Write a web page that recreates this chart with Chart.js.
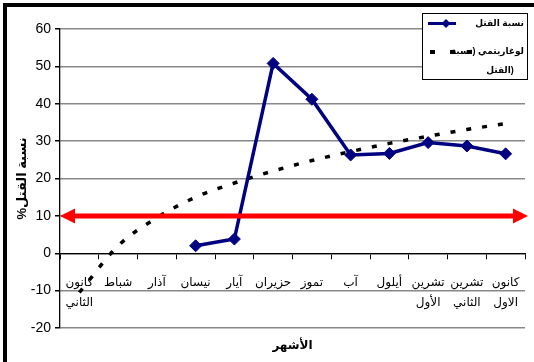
<!DOCTYPE html>
<html>
<head>
<meta charset="utf-8">
<script src="https://cdn.jsdelivr.net/npm/chart.js@4.4.1/dist/chart.umd.min.js"></script>
<style>
  html, body { margin: 0; padding: 0; background: #fff; }
  #wrap { position: relative; width: 534px; height: 362px; overflow: hidden; }
  #frame { position: absolute; left: 3px; top: 3px; width: 560px; height: 400px; border: 4px solid #000; box-sizing: border-box; pointer-events: none; }
  canvas { position: absolute; left: 0; top: 0; }
</style>
</head>
<body>
<div id="wrap">
  <canvas id="c" width="534" height="362"></canvas>
  <div id="frame"></div>
</div>
<script>
// ---- data ----
const months = [
  ["كانون", "الثاني"], "شباط", "آذار", "نيسان", "آيار", "حزيران",
  "تموز", "آب", "أيلول", ["تشرين", "الأول"], ["تشرين", "الثاني"], ["كانون", "الاول"]
];
const killRate = [null, null, null, 2.0, 3.8, 50.8, 41.2, 26.3, 26.7, 29.6, 28.7, 26.6];
const logTrend = [-10.5, 2.0, 9.5, 15.0, 18.8, 22.0, 24.8, 27.2, 29.4, 31.3, 33.1, 34.7];
const referenceLevel = [10];
const yTicks = { min: -20, max: 60, step: 10 };
const seriesName = "نسبة القتل";
const trendNameLines = ["لوغاريتمي (نسبة", "القتل)"];
const yTitle = "%نسبة القتل";
const xTitle = "الأشهر";

const FONT = "'Liberation Sans', Arial, 'DejaVu Sans', sans-serif";

const extras = {
  id: 'extras',
  afterDatasetsDraw(chart) {
    const ctx = chart.ctx;
    const area = chart.chartArea;
    const y = chart.scales.y.getPixelForValue(referenceLevel[0]);
    const L = area.left, R = area.right + 3;
    const hl = 15, hh = 7.5;
    ctx.save();
    ctx.fillStyle = '#ff0000';
    ctx.strokeStyle = '#ff0000';
    ctx.lineWidth = 5;
    ctx.beginPath();
    ctx.moveTo(L + hl - 2, y);
    ctx.lineTo(R - hl + 2, y);
    ctx.stroke();
    ctx.beginPath();
    ctx.moveTo(L, y); ctx.lineTo(L + hl, y - hh); ctx.lineTo(L + hl, y + hh); ctx.closePath();
    ctx.fill();
    ctx.beginPath();
    ctx.moveTo(R, y); ctx.lineTo(R - hl, y - hh); ctx.lineTo(R - hl, y + hh); ctx.closePath();
    ctx.fill();
    ctx.restore();
  },
  afterDraw(chart) {
    const ctx = chart.ctx;
    const area = chart.chartArea;
    ctx.save();
    // x axis title
    ctx.fillStyle = '#000';
    ctx.font = "bold 12px " + FONT;
    ctx.textAlign = 'center';
    ctx.textBaseline = 'middle';
    ctx.fillText(xTitle, (area.left + area.right) / 2, 346);

    // legend
    const bx = 422.5, by = 13.5, bw = 105, bh = 66;
    ctx.fillStyle = '#fff';
    ctx.fillRect(bx, by, bw, bh);
    ctx.strokeStyle = '#000';
    ctx.lineWidth = 1;
    ctx.strokeRect(bx, by, bw, bh);

    // entry 1
    const y1 = 23.5;
    ctx.strokeStyle = '#000080';
    ctx.lineWidth = 3;
    ctx.beginPath(); ctx.moveTo(428, y1); ctx.lineTo(456, y1); ctx.stroke();
    ctx.fillStyle = '#000080';
    ctx.beginPath();
    ctx.moveTo(446, y1 - 4.5); ctx.lineTo(450.5, y1); ctx.lineTo(446, y1 + 4.5); ctx.lineTo(441.5, y1);
    ctx.closePath(); ctx.fill();

    ctx.fillStyle = '#000';
    ctx.font = "bold 9px " + FONT;
    ctx.textAlign = 'right';
    ctx.textBaseline = 'middle';
    ctx.fillText(seriesName, 524, y1);

    // entry 2
    const y2 = 52;
    ctx.fillStyle = '#000';
    [430, 450, 467].forEach(x => ctx.fillRect(x, y2 - 2, 5, 4));
    ctx.textAlign = 'right';
    ctx.fillText(trendNameLines[0], 524, y2);
    ctx.textAlign = 'center';
    ctx.fillText(trendNameLines[1], 500, 71);
    ctx.restore();
  }
};

new Chart(document.getElementById('c'), {
  type: 'line',
  data: {
    labels: months,
    datasets: [
      {
        label: seriesName,
        data: killRate,
        borderColor: '#000080',
        backgroundColor: '#000080',
        borderWidth: 3.5,
        pointStyle: 'rectRot',
        pointRadius: 6,
        pointBorderWidth: 1,
        pointBackgroundColor: '#000080',
        pointBorderColor: '#000080',
        tension: 0,
        fill: false
      },
      {
        label: trendNameLines.join(' '),
        data: logTrend,
        borderColor: '#000',
        borderWidth: 3.5,
        borderDash: [5, 11],
        pointRadius: 0,
        tension: 0.4,
        cubicInterpolationMode: 'monotone',
        fill: false
      }
    ]
  },
  options: {
    responsive: false,
    devicePixelRatio: 1,
    animation: false,
    events: [],
    layout: { padding: { left: 0, top: 29, right: 9, bottom: 34 } },
    plugins: { legend: { display: false }, tooltip: { enabled: false } },
    scales: {
      x: {
        type: 'category',
        position: { y: 0 },
        offset: true,
        afterFit: s => { s.height = 0; },
        grid: {
          offset: true,
          drawOnChartArea: true,
          color: c => (c.index === months.length ? '#888' : 'rgba(0,0,0,0)'),
          tickColor: '#000',
          tickLength: 5,
          lineWidth: 1
        },
        border: { display: true, color: '#000', width: 1.3 },
        ticks: {
          color: '#000',
          font: { family: FONT, size: 12, lineHeight: '20px' },
          padding: 14,
          maxRotation: 0,
          autoSkip: false
        }
      },
      y: {
        min: yTicks.min,
        max: yTicks.max,
        afterFit: s => { s.width = 60; },
        grid: { color: '#888', lineWidth: 1.5, tickColor: '#000', tickLength: 5 },
        border: { display: true, color: '#000', width: 1.3 },
        ticks: {
          stepSize: yTicks.step,
          color: '#000',
          padding: 4,
          font: { family: FONT, size: 14 }
        },
        title: {
          display: true,
          text: yTitle,
          color: '#000',
          font: { family: FONT, size: 13, weight: 'bold' },
          padding: { top: 15, bottom: 0 }
        }
      }
    }
  },
  plugins: [extras]
});
</script>
</body>
</html>
